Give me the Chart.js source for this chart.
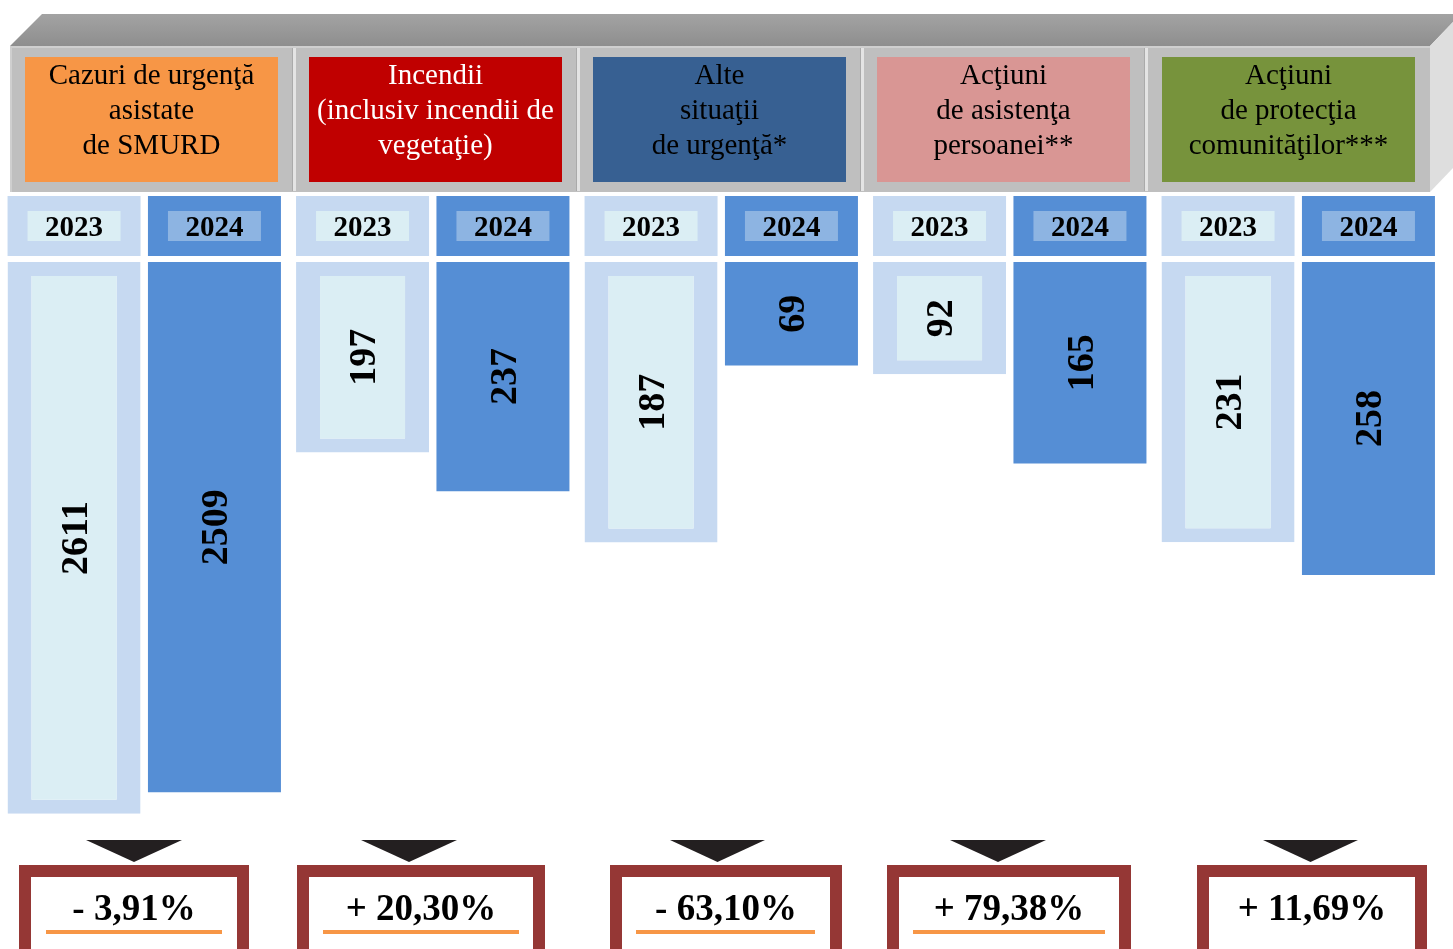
<!DOCTYPE html>
<html>
<head>
<meta charset="utf-8">
<script src="https://cdn.jsdelivr.net/npm/chart.js@4.4.1/dist/chart.umd.min.js"></script>
<style>
  html, body { margin: 0; padding: 0; background: #ffffff; }
  #wrap { width: 1453px; height: 949px; overflow: hidden; }
</style>
</head>
<body>
<div id="wrap"><canvas id="c" width="1453" height="949"></canvas></div>
<script>
// ---- DATA ----
const categories = [
  ['Cazuri de urgenţă', 'asistate', 'de SMURD'],
  ['Incendii', '(inclusiv incendii de', 'vegetaţie)'],
  ['Alte', 'situaţii', 'de urgenţă*'],
  ['Acţiuni', 'de asistenţa', 'persoanei**'],
  ['Acţiuni', 'de protecţia', 'comunităţilor***']
];
const years = ['2023', '2024'];
const values2023 = [2611, 197, 187, 92, 231];
const values2024 = [2509, 237, 69, 165, 258];
const changeLabels = ['- 3,91%', '+ 20,30%', '- 63,10%', '+ 79,38%', '+ 11,69%'];

// ---- STYLE ----
const headerColors = ['#f79646', '#c00000', '#376092', '#d99694', '#77933c'];
const headerTextColors = ['#000000', '#ffffff', '#000000', '#000000', '#000000'];
const groupMax = [2640, 577, 372, 457, 460];
const SERIF = "'Liberation Serif', 'Times New Roman', serif";

const labels = categories.map(c => c.join(' '));
const seriesByYear = [values2023, values2024];
const datasets = [];
categories.forEach((c, g) => {
  years.forEach((yr, k) => {
    const d = new Array(categories.length).fill(null);
    d[g] = seriesByYear[k][g];
    const first = k === 0;
    datasets.push({
      label: yr,
      data: d,
      yAxisID: 'y' + g,
      skipNull: true,
      barPercentage: 133 / 140.4,
      categoryPercentage: 280.8 / 288.5,
      borderSkipped: false,
      backgroundColor: first ? '#dbeef4' : '#558ed5',
      borderColor: first ? '#c6d9f1' : '#558ed5',
      borderWidth: first ? {left: 24, right: 24, top: 14, bottom: 14} : 0
    });
  });
});

const scales = { x: { type: 'category', display: false, offset: true } };
groupMax.forEach((m, g) => {
  scales['y' + g] = { type: 'linear', display: false, reverse: true, min: 0, max: m };
});

const decor = {
  id: 'decor',
  beforeDraw(chart) {
    const ctx = chart.ctx;
    ctx.save();
    ctx.fillStyle = '#ffffff';
    ctx.fillRect(0, 0, chart.width, chart.height);

    // 3D banner: top face
    const topGrad = ctx.createLinearGradient(0, 14, 0, 46);
    topGrad.addColorStop(0, '#a3a3a3');
    topGrad.addColorStop(1, '#8e8e8e');
    ctx.fillStyle = topGrad;
    ctx.beginPath();
    ctx.moveTo(10, 46); ctx.lineTo(42, 14); ctx.lineTo(1453, 14); ctx.lineTo(1453, 22); ctx.lineTo(1430, 46);
    ctx.closePath(); ctx.fill();
    // right face
    ctx.fillStyle = '#dedede';
    ctx.beginPath();
    ctx.moveTo(1430, 46); ctx.lineTo(1453, 22); ctx.lineTo(1453, 168); ctx.lineTo(1430, 192);
    ctx.closePath(); ctx.fill();
    // front face
    ctx.fillStyle = '#bfbfbf';
    ctx.fillRect(10, 46, 1420, 146);
    ctx.fillStyle = '#cfcfcf';
    ctx.fillRect(10, 46, 1420, 2);
    ctx.fillRect(10, 46, 2, 146);

    // panel separators
    [294, 578, 862, 1146].forEach(x => {
      ctx.fillStyle = '#e4e4e4';
      ctx.fillRect(x - 1, 48, 3, 143);
      ctx.fillStyle = '#aaaaaa';
      ctx.fillRect(x - 2, 48, 1, 143);
    });

    // header boxes + text
    const boxX = [25, 309, 593, 877, 1162];
    categories.forEach((lines, g) => {
      const x0 = boxX[g], w = 253;
      ctx.fillStyle = headerColors[g];
      ctx.fillRect(x0, 57, w, 125);
      ctx.fillStyle = headerTextColors[g];
      ctx.font = '29px ' + SERIF;
      ctx.textAlign = 'center';
      ctx.textBaseline = 'alphabetic';
      lines.forEach((t, k) => ctx.fillText(t, x0 + w / 2, 84 + 35 * k));
    });

    // year boxes (aligned with each bar)
    chart.data.datasets.forEach((ds, di) => {
      const meta = chart.getDatasetMeta(di);
      meta.data.forEach((el, i) => {
        if (ds.data[i] === null) return;
        const first = ds.label === years[0];
        const cx = el.x, bw = el.width;
        ctx.fillStyle = first ? '#c6d9f1' : '#558ed5';
        ctx.fillRect(cx - bw / 2, 196, bw, 60);
        ctx.fillStyle = first ? '#dbeef4' : '#8db4e2';
        ctx.fillRect(cx - bw / 2 + 20, 211, bw - 40, 30);
        ctx.fillStyle = '#000000';
        ctx.font = 'bold 29px ' + SERIF;
        ctx.textAlign = 'center';
        ctx.textBaseline = 'middle';
        ctx.fillText(ds.label, cx, 229);
      });
    });
    ctx.restore();
  },
  afterDatasetsDraw(chart) {
    const ctx = chart.ctx;
    ctx.save();
    // value labels, rotated
    chart.data.datasets.forEach((ds, di) => {
      const meta = chart.getDatasetMeta(di);
      meta.data.forEach((el, i) => {
        const v = ds.data[i];
        if (v === null || v === undefined) return;
        ctx.save();
        ctx.translate(el.x, (el.y + el.base) / 2);
        ctx.rotate(-Math.PI / 2);
        ctx.fillStyle = '#000000';
        ctx.font = 'bold 38px ' + SERIF;
        ctx.textAlign = 'center';
        ctx.textBaseline = 'middle';
        ctx.fillText(String(v), 0, 3);
        ctx.restore();
      });
    });

    // arrows + change boxes
    const boxes = [[19, 249], [297, 545], [610, 842], [887, 1131], [1197, 1427]];
    const arrows = [[86, 182], [361, 457], [670, 765], [950, 1046], [1263, 1358]];
    const unders = [[46, 222], [323, 519], [636, 815], [913, 1105], null];
    changeLabels.forEach((txt, g) => {
      const [a0, a1] = arrows[g];
      ctx.fillStyle = '#231f20';
      ctx.beginPath();
      ctx.moveTo(a0, 840); ctx.lineTo(a1, 840); ctx.lineTo((a0 + a1) / 2, 862);
      ctx.closePath(); ctx.fill();
      const [b0, b1] = boxes[g];
      ctx.fillStyle = '#953735';
      ctx.fillRect(b0, 865, b1 - b0, 100);
      ctx.fillStyle = '#ffffff';
      ctx.fillRect(b0 + 12, 877, b1 - b0 - 24, 100);
      ctx.fillStyle = '#000000';
      ctx.font = 'bold 37px ' + SERIF;
      ctx.textAlign = 'center';
      ctx.textBaseline = 'alphabetic';
      ctx.fillText(txt, (b0 + b1) / 2, 920);
      if (unders[g]) {
        ctx.fillStyle = '#f79646';
        ctx.fillRect(unders[g][0], 930, unders[g][1] - unders[g][0], 4);
      }
    });
    ctx.restore();
  }
};

new Chart(document.getElementById('c'), {
  type: 'bar',
  data: { labels, datasets },
  options: {
    responsive: false,
    animation: false,
    maintainAspectRatio: false,
    layout: { padding: { left: 0, right: 10.5, top: 262, bottom: 129 } },
    scales,
    plugins: { legend: { display: false }, tooltip: { enabled: false } }
  },
  plugins: [decor]
});
</script>
</body>
</html>
